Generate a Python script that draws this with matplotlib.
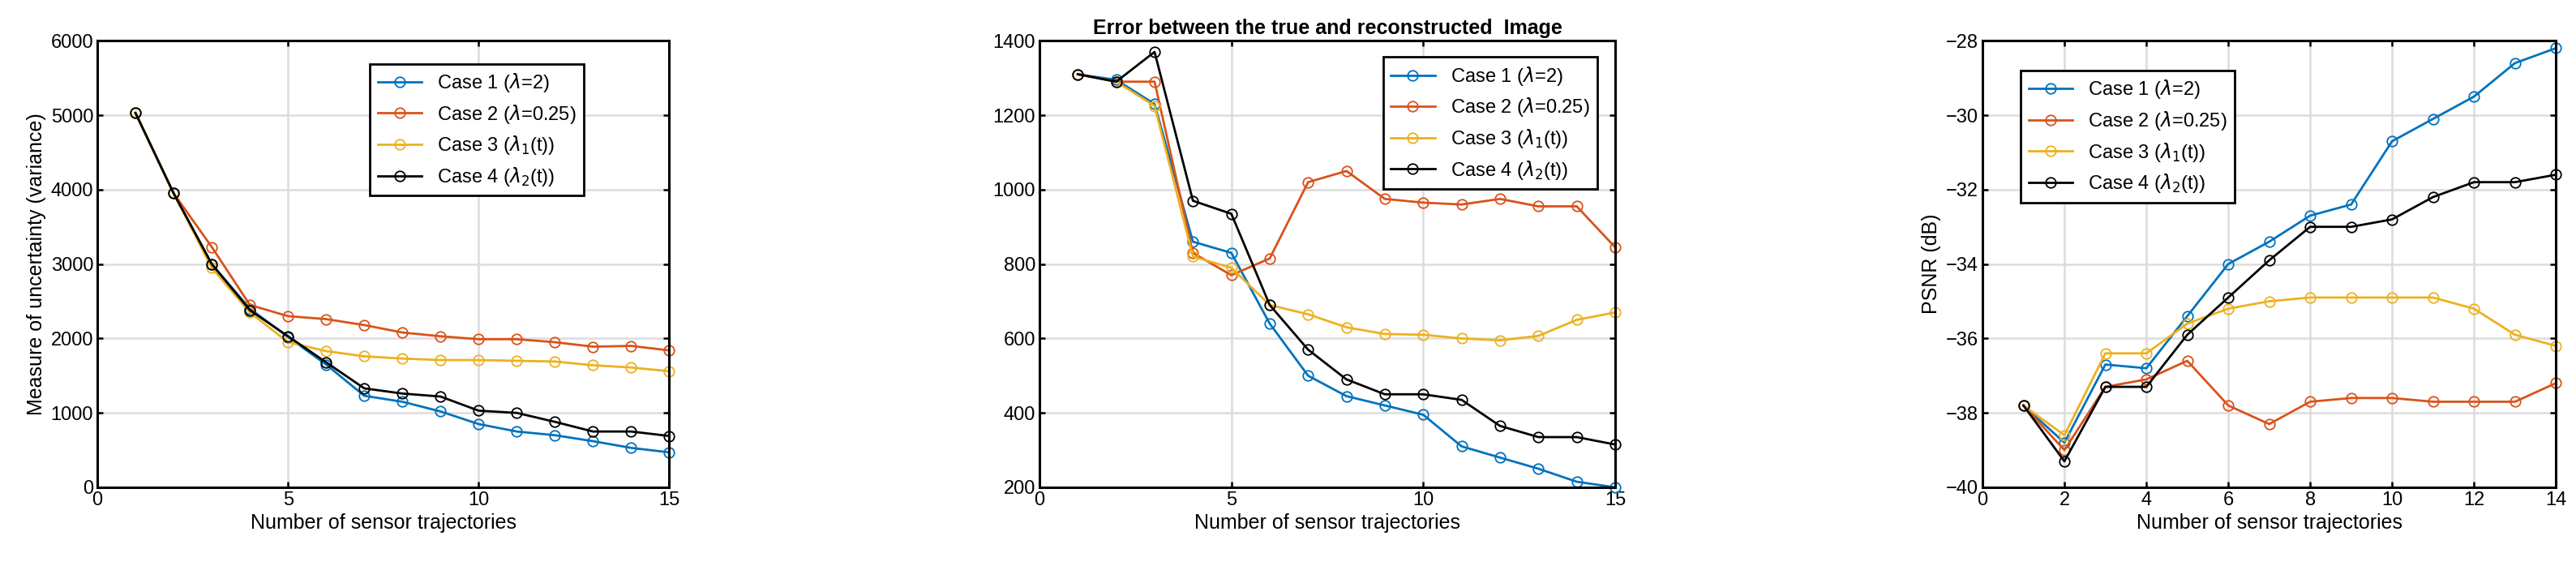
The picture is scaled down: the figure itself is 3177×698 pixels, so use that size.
import matplotlib
matplotlib.use("Agg")
import matplotlib.pyplot as plt

plt.rcParams['font.family'] = ['Liberation Sans', 'DejaVu Sans']

x15 = list(range(1, 16))
x14 = list(range(1, 15))
labels = ["Case 1 ($\\lambda$=2)", "Case 2 ($\\lambda$=0.25)", "Case 3 ($\\lambda_1$(t))", "Case 4 ($\\lambda_2$(t))"]
colors = ["#0072BD", "#D95319", "#EDB120", "#000000"]

var1 = [5030,3950,3000,2400,2020,1650,1230,1150,1020,850,750,700,620,530,470]
var2 = [5030,3950,3230,2450,2300,2260,2180,2080,2030,1990,1990,1950,1890,1900,1840]
var3 = [5030,3950,2950,2350,1950,1830,1760,1730,1710,1710,1700,1690,1640,1610,1560]
var4 = [5030,3950,3000,2380,2030,1680,1330,1260,1220,1030,1000,880,750,750,690]

err1 = [1310,1295,1230,860,830,640,500,445,420,395,310,280,250,215,200]
err2 = [1310,1290,1290,830,770,815,1020,1050,975,965,960,975,955,955,845]
err3 = [1310,1290,1225,820,790,690,665,630,612,610,600,595,607,650,670]
err4 = [1310,1290,1370,970,935,690,570,490,450,450,435,365,335,335,315]

psnr1 = [-37.8,-38.8,-36.7,-36.8,-35.4,-34.0,-33.4,-32.7,-32.4,-30.7,-30.1,-29.5,-28.6,-28.2]
psnr2 = [-37.8,-39.0,-37.3,-37.1,-36.6,-37.8,-38.3,-37.7,-37.6,-37.6,-37.7,-37.7,-37.7,-37.2]
psnr3 = [-37.8,-38.6,-36.4,-36.4,-35.6,-35.2,-35.0,-34.9,-34.9,-34.9,-34.9,-35.2,-35.9,-36.2]
psnr4 = [-37.8,-39.3,-37.3,-37.3,-35.9,-34.9,-33.9,-33.0,-33.0,-32.8,-32.2,-31.8,-31.8,-31.6]

fig = plt.figure(figsize=(31.77, 6.98), dpi=100)
b, h = 0.139, 0.789
axes = [fig.add_axes([0.0378, b, 0.222, h]),
        fig.add_axes([0.4035, b, 0.2235, h]),
        fig.add_axes([0.7696, b, 0.2226, h])]

def draw(ax, x, series, legloc):
    for s, c, l in zip(series, colors, labels):
        ax.plot(x, s, color=c, lw=2, marker='o', mfc='none', ms=9, mew=1.3, label=l, clip_on=False)
    ax.grid(True, color='#dcdcdc', lw=1.8)
    ax.set_axisbelow(True)
    for sp in ax.spines.values():
        sp.set_linewidth(2.2)
    ax.tick_params(labelsize=17, direction='in', width=1.8, length=5, top=True, right=True)
    ax.set_xlabel("Number of sensor trajectories", fontsize=18)
    leg = ax.legend(fontsize=17, fancybox=False, edgecolor='black', framealpha=1,
                    handlelength=2.3, labelspacing=0.45, **legloc)
    leg.get_frame().set_linewidth(2)

ax = axes[0]
draw(ax, x15, [var1, var2, var3, var4], dict(loc='upper left', bbox_to_anchor=(0.46, 0.97)))
ax.set_xlim(0, 15); ax.set_ylim(0, 6000)
ax.set_xticks([0, 5, 10, 15])
ax.set_yticks(range(0, 6001, 1000))
ax.set_ylabel("Measure of uncertainty (variance)", fontsize=18)

ax = axes[1]
draw(ax, x15, [err1, err2, err3, err4], dict(loc='upper right', bbox_to_anchor=(0.985, 0.985)))
ax.set_xlim(0, 15); ax.set_ylim(200, 1400)
ax.set_xticks([0, 5, 10, 15])
ax.set_yticks(range(200, 1401, 200))
ax.set_title("Error between the true and reconstructed  Image", fontsize=18, fontweight='bold')

ax = axes[2]
draw(ax, x14, [psnr1, psnr2, psnr3, psnr4], dict(loc='upper left', bbox_to_anchor=(0.05, 0.955)))
ax.set_xlim(0, 14); ax.set_ylim(-40, -28)
ax.set_xticks(range(0, 15, 2))
ax.set_yticks(range(-40, -27, 2))
ax.set_ylabel("PSNR (dB)", fontsize=18)

fig.savefig("out.png", dpi=100)
